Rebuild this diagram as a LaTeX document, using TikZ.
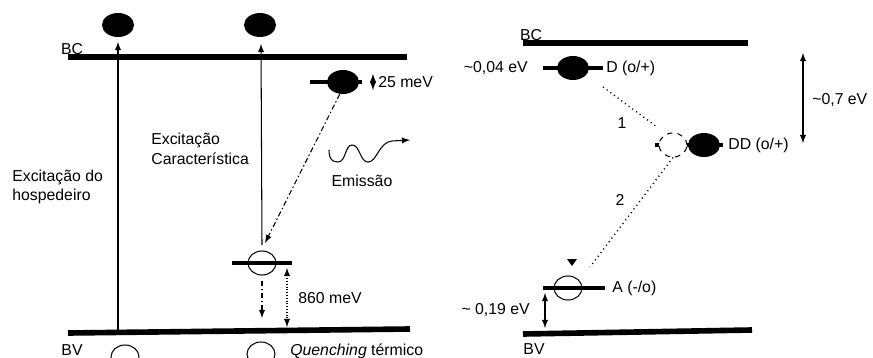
\documentclass[tikz,border=0pt]{standalone}
\usepackage{fontspec}
\setmainfont{Liberation Sans}
\usetikzlibrary{arrows,calc,shapes.geometric}
\tikzset{
  band/.style={line width=3.2pt},
  level/.style={line width=2.8pt},
  electron/.style={ellipse,fill=black,inner sep=0pt,minimum width=0.64cm,minimum height=0.48cm},
  hole/.style={ellipse,draw,fill=white,inner sep=0pt,line width=0.6pt,minimum width=0.56cm,minimum height=0.48cm},
  lbl/.style={font=\fontsize{9}{11}\selectfont,inner sep=0pt},
  tran/.style={line width=0.6pt,>=latex},
}

\begin{document}
\begin{tikzpicture}[x=0.02cm,y=-0.02cm]
\clip (0,0) rectangle (873,358);

% left diagram
\coordinate (BCa) at (68,57);
\coordinate (BCb) at (407,57);
\coordinate (BVa) at (68,333);
\coordinate (BVb) at (410,329);

\node[electron] (e1) at (118,25) {};
\node[electron] (e2) at (260,25) {};
\node[hole] (h1) at (125,357) {};
\node[hole] (h2) at (261,354) {};

\coordinate (x1a) at (118,331);
\coordinate (x1b) at (118,42);
\coordinate (x2a) at (262,245);
\coordinate (x2b) at (261,44);
\draw[tran,->] (x1a) -- (x1b);
\draw[tran,->] (x2a) -- (x2b);

\draw[band] (BCa) -- (BCb);
\draw[band] (BVa) -- (BVb);
\node[lbl] (bcL) at (72,49) {BC};
\node[lbl] (bvL) at (72,350) {BV};

% shallow trap
\coordinate (t1a) at (310,82);
\coordinate (t1b) at (362,82);
\draw[level] (t1a) -- (t1b);
\node[electron] (e3) at (343,82) {};
\coordinate (m25a) at (373,74);
\coordinate (m25b) at (373,90);
\draw[tran,<->] (m25a) -- (m25b);
\node[lbl,anchor=west] (m25) at (378,82) {25 meV};

% deep level
\coordinate (t2a) at (232,263);
\coordinate (t2b) at (292,263);
\draw[level] (t2a) -- (t2b);
\node[hole,fill=none] (h3) at (262,263) {};
\draw[tran,->,dash pattern=on 3pt off 1.5pt on 0.8pt off 1.5pt] (e3.255) -- (265,243);

\coordinate (q1a) at (262,281);
\coordinate (q1b) at (262,318);
\draw[tran,->,dash pattern=on 3pt off 1.5pt on 0.8pt off 1.5pt] (q1a) -- (q1b);
\coordinate (q2a) at (287,268);
\coordinate (q2b) at (287,327);
\draw[tran,<->,densely dotted] (q2a) -- (q2b);
\node[lbl,anchor=west] (m860) at (298,298) {860 meV};

\node[lbl,anchor=west,align=left] (exH) at (12,187) {Excitação do\\hospedeiro};
\node[lbl,anchor=west,align=left] (exC) at (151,149) {Excitação\\Característica};

% emission
\coordinate (w0) at (329,150);
\coordinate (w1) at (410,140);
\draw[tran,->] (w0) .. controls (329,159) and (332,162) .. (338,162)
  .. controls (346,162) and (345,145) .. (352,145)
  .. controls (360,145) and (360,162) .. (368,162)
  .. controls (377,162) and (379,142) .. (392,141) -- (w1);
\node[lbl] (em) at (362,181) {Emissão};
\node[lbl,anchor=west] (qt) at (290,351) {\itshape Quenching\upshape{} térmico};

% right diagram
\coordinate (RCa) at (523,43);
\coordinate (RCb) at (748,43);
\coordinate (RVa) at (523,334);
\coordinate (RVb) at (752,330);
\draw[band] (RCa) -- (RCb);
\draw[band] (RVa) -- (RVb);
\node[lbl] (bcR) at (531,35) {BC};
\node[lbl] (bvR) at (534,349) {BV};

% donor D
\coordinate (Da) at (543,68);
\coordinate (Db) at (603,68);
\draw[level] (Da) -- (Db);
\node[electron] (eD) at (573,68) {};
\node[lbl,anchor=east] (d04) at (528,68) {\textasciitilde0,04 eV};
\node[lbl,anchor=west] (dL) at (606,68) {D (o/+)};

% deep donor DD
\coordinate (DDa) at (655,145);
\coordinate (DDb) at (723,145);
\draw[level] (DDa) -- (DDb);
\node[hole,dashed] (hDD) at (673,145) {};
\node[electron] (eDD) at (704,145) {};
\node[lbl,anchor=west] (ddL) at (728,145) {DD (o/+)};

\coordinate (s1a) at (603,87);
\coordinate (s1b) at (657,127);
\draw[tran,dotted,line width=0.8pt] (s1a) -- (s1b);
\node[lbl] (n1) at (622,123) {1};

\coordinate (s7a) at (803,53);
\coordinate (s7b) at (803,143);
\draw[tran,<->] (s7a) -- (s7b);
\node[lbl,anchor=west] (d07) at (812,100) {\textasciitilde0,7 eV};

% acceptor A
\coordinate (Aa) at (543,288);
\coordinate (Ab) at (605,288);
\node[hole,fill=none] (hA) at (568,288) {};
\draw[level] (Aa) -- (Ab);
\node[lbl,anchor=west] (aL) at (612,288) {A (-/o)};

\coordinate (s2b) at (590,267);
\draw[tran,dotted,line width=0.8pt] (hDD.south) -- (s2b);
\node[lbl] (n2) at (620,200) {2};
\fill (567,259) -- (577,259) -- (572,266) -- cycle;

\coordinate (s19a) at (545,293);
\coordinate (s19b) at (545,328);
\draw[tran,<->] (s19a) -- (s19b);
\node[lbl,anchor=east] (d19) at (530,310) {\textasciitilde{} 0,19 eV};

\end{tikzpicture}
\end{document}
